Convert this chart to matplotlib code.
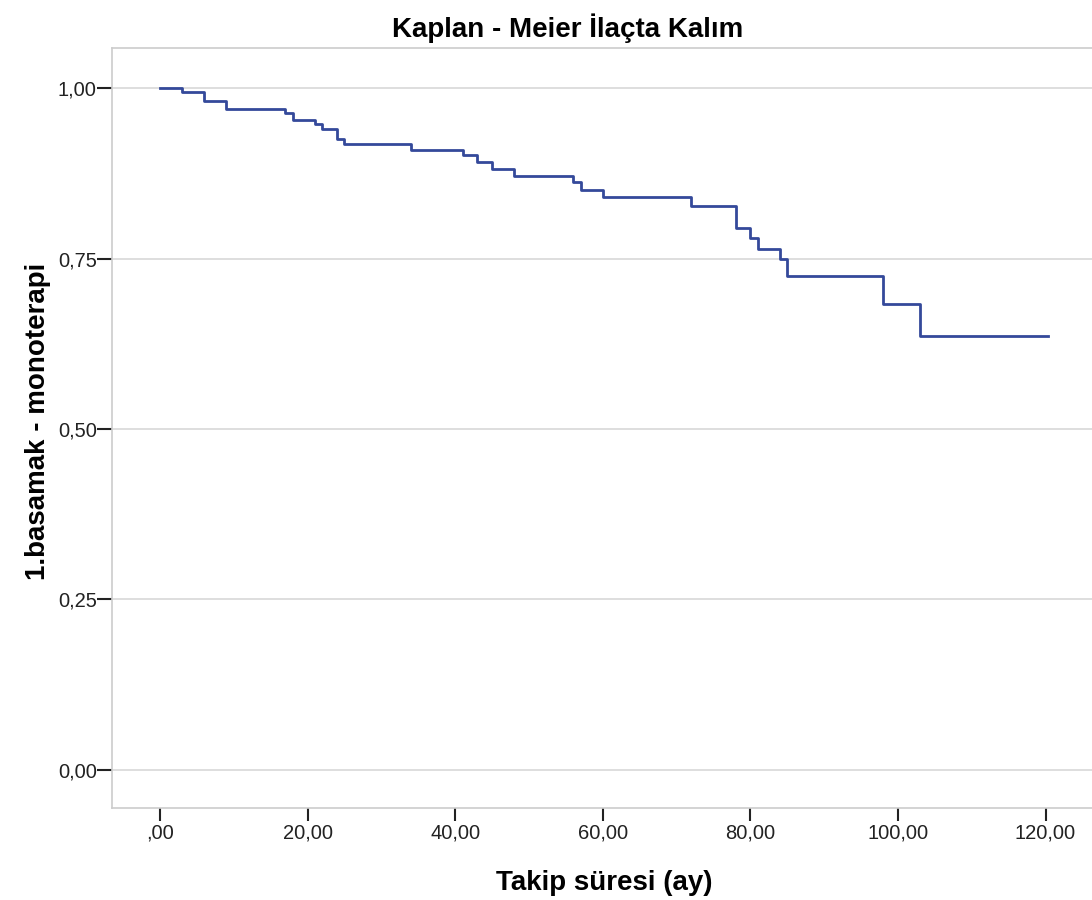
import matplotlib.pyplot as plt

# Kaplan-Meier estimate (months, survival)
times = [0, 3.0, 6.0, 9.0, 17.0, 18.0, 21.0, 22.0, 24.0, 25.0, 34.0, 41.0, 43.0,
         45.0, 48.0, 56.0, 57.0, 60.0, 72.0, 78.0, 80.0, 81.0, 84.0, 85.0, 98.0,
         103.0, 120.3]
surv = [1.0, 0.995, 0.981, 0.969, 0.963, 0.954, 0.948, 0.940, 0.925, 0.918, 0.909,
        0.902, 0.891, 0.881, 0.871, 0.862, 0.850, 0.840, 0.827, 0.795, 0.780, 0.764,
        0.749, 0.725, 0.683, 0.637, 0.637]

x_ticks = [0, 20, 40, 60, 80, 100, 120]
x_labels = [',00', '20,00', '40,00', '60,00', '80,00', '100,00', '120,00']
y_ticks = [0, 0.25, 0.5, 0.75, 1.0]
y_labels = ['0,00', '0,25', '0,50', '0,75', '1,00']

plt.rcParams['font.family'] = ['Liberation Sans', 'DejaVu Sans']

fig = plt.figure(figsize=(10.92, 9), dpi=100)
ax = fig.add_axes([0.1026, 0.1022, 0.8974, 0.8445])

ax.step(times, surv, where='post', color='#34499a', linewidth=2.0)

ax.set_xlim(-6.5, 126.3)
ax.set_ylim(-0.056, 1.059)

ax.set_yticks(y_ticks)
ax.set_yticklabels(y_labels, fontsize=14.5, color='#222222')
ax.set_xticks(x_ticks)
ax.set_xticklabels(x_labels, fontsize=14.5, color='#222222')

ax.yaxis.grid(True, color='#d4d4d4', linewidth=1.1)
ax.set_axisbelow(True)

for s in ['left', 'top', 'bottom']:
    ax.spines[s].set_color('#cccccc')
    ax.spines[s].set_linewidth(1.2)
ax.spines['right'].set_visible(False)

ax.tick_params(axis='y', direction='out', length=11, width=1.5, color='#222222', pad=0)
ax.tick_params(axis='x', direction='out', length=9, width=1.5, color='#222222', pad=2)

fig.text(568 / 1092, 1 - 37 / 900, 'Kaplan - Meier İlaçta Kalım', fontsize=20,
         fontweight='bold', ha='center', va='baseline')
fig.text(604 / 1092, 1 - 890 / 900, 'Takip süresi (ay)', fontsize=20,
         fontweight='bold', ha='center', va='baseline')
fig.text(38 / 1092, 1 - 421 / 900, '1.basamak - monoterapi', fontsize=20,
         fontweight='bold', rotation=90, ha='center', va='center')

fig.savefig('out.png', dpi=100, facecolor='white')
